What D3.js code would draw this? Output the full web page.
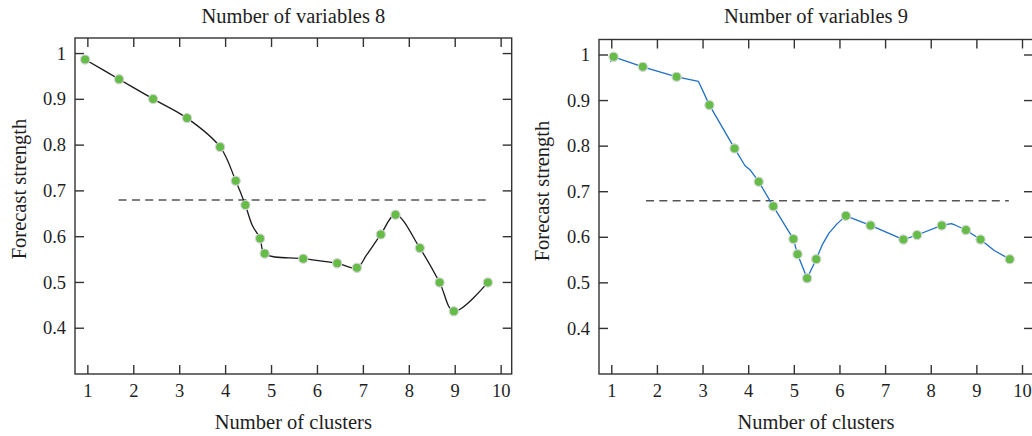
<!DOCTYPE html>
<html>
<head>
<meta charset="utf-8">
<script src="https://cdn.jsdelivr.net/npm/d3@7"></script>
<style>
  body { margin: 0; background: #fff; }
  text { font-family: "Liberation Serif", "DejaVu Serif", serif; fill: #1e1e1e; }
</style>
</head>
<body>
<script>
// tick labels
const xTicks = [1, 2, 3, 4, 5, 6, 7, 8, 9, 10];
const yTicks = [0.4, 0.5, 0.6, 0.7, 0.8, 0.9, 1];

// number of variables 8 (markers)
const v8X = [0.94, 1.68, 2.42, 3.16, 3.88, 4.22, 4.43, 4.75, 4.85, 5.69, 6.43, 6.86, 7.38, 7.70, 8.23, 8.66, 8.97, 9.71];
const v8Y = [0.987, 0.944, 0.901, 0.859, 0.796, 0.722, 0.669, 0.596, 0.563, 0.552, 0.542, 0.532, 0.605, 0.648, 0.575, 0.500, 0.437, 0.500];
// extra bends of the drawn curve
const v8BendX = [4.58, 7.07];
const v8BendY = [0.625, 0.560];

// number of variables 9 (markers)
const v9X = [1.04, 1.68, 2.42, 3.14, 3.69, 4.22, 4.54, 4.98, 5.07, 5.28, 5.48, 6.13, 6.67, 7.39, 7.69, 8.23, 8.76, 9.08, 9.72];
const v9Y = [0.996, 0.974, 0.952, 0.890, 0.795, 0.722, 0.668, 0.596, 0.563, 0.510, 0.552, 0.647, 0.626, 0.595, 0.605, 0.626, 0.616, 0.595, 0.552];
const v9BendX = [0.97, 2.90, 3.92, 4.04, 5.62, 5.76, 5.94, 8.44, 8.52, 9.38];
const v9BendY = [0.985, 0.942, 0.757, 0.747, 0.585, 0.609, 0.630, 0.630, 0.627, 0.571];

// threshold line
const cutoff = 0.68;
const cut8 = [1.67, 9.69];
const cut9 = [1.75, 9.70];

const W = 1032, H = 436;
const svg = d3.select("body").append("svg")
  .attr("width", W)
  .attr("height", H);

function drawPanel(o) {
  const x = d3.scaleLinear().domain([0.72, 10.23]).range([o.left, o.right]);
  const y = d3.scaleLinear().domain([0.3, 1.034]).range([374, o.top]);
  const g = svg.append("g");
  const frame = "#333";

  // frame
  g.append("rect")
    .attr("x", o.left).attr("y", o.top)
    .attr("width", o.right - o.left).attr("height", 374 - o.top)
    .attr("fill", "none").attr("stroke", frame).attr("stroke-width", 1.4);

  // inward ticks, all four sides
  const tk = 9;
  xTicks.forEach(t => {
    g.append("line").attr("x1", x(t)).attr("x2", x(t)).attr("y1", 374).attr("y2", 374 - tk)
      .attr("stroke", frame).attr("stroke-width", 1.4);
    g.append("line").attr("x1", x(t)).attr("x2", x(t)).attr("y1", o.top).attr("y2", o.top + tk)
      .attr("stroke", frame).attr("stroke-width", 1.4);
    g.append("text").attr("x", x(t)).attr("y", 397)
      .attr("text-anchor", "middle").style("font-size", "18.5px").text(t);
  });
  yTicks.forEach(t => {
    g.append("line").attr("x1", o.left).attr("x2", o.left + tk).attr("y1", y(t)).attr("y2", y(t))
      .attr("stroke", frame).attr("stroke-width", 1.4);
    g.append("line").attr("x1", o.right).attr("x2", o.right - tk).attr("y1", y(t)).attr("y2", y(t))
      .attr("stroke", frame).attr("stroke-width", 1.4);
    g.append("text").attr("x", o.left - 9).attr("y", y(t)).attr("dy", "0.33em")
      .attr("text-anchor", "end").style("font-size", "18.5px").text(t);
  });

  // threshold
  g.append("line")
    .attr("x1", x(o.cut[0])).attr("x2", x(o.cut[1]))
    .attr("y1", y(cutoff)).attr("y2", y(cutoff))
    .attr("stroke", "#555").attr("stroke-width", 1.5).attr("stroke-dasharray", "8,5.3");

  // curve through markers and bends
  const pts = o.xs.map((v, i) => [v, o.ys[i]])
    .concat(o.bx.map((v, i) => [v, o.by[i]]))
    .sort((a, b) => a[0] - b[0]);
  const line = d3.line().x(d => x(d[0])).y(d => y(d[1])).curve(o.curve);
  g.append("path").datum(pts).attr("d", line)
    .attr("fill", "none").attr("stroke", o.color).attr("stroke-width", 1.3)
    .attr("stroke-linejoin", "round");

  g.selectAll("circle.pt").data(o.xs).enter().append("circle")
    .attr("class", "pt")
    .attr("cx", d => x(d)).attr("cy", (d, i) => y(o.ys[i]))
    .attr("r", 4.6)
    .attr("fill", "#65bd48").attr("stroke", "#d4d4d4").attr("stroke-width", 1.2);

  // titles
  const cx = (o.left + o.right) / 2;
  g.append("text").attr("x", cx).attr("y", 23).attr("text-anchor", "middle")
    .style("font-size", "20.5px").text(o.title);
  g.append("text").attr("x", cx).attr("y", 429).attr("text-anchor", "middle")
    .style("font-size", "20.5px").text("Number of clusters");
  g.append("text").attr("transform", `translate(${o.ylx},${o.yly}) rotate(-90)`)
    .attr("text-anchor", "middle").style("font-size", "20.5px").text("Forecast strength");
}

drawPanel({left: 75, right: 511.7, top: 38, xs: v8X, ys: v8Y, bx: v8BendX, by: v8BendY,
  curve: d3.curveCatmullRom.alpha(0.5),
  color: "#1a1a1a", cut: cut8, title: "Number of variables 8", ylx: 25.5, yly: 189});
drawPanel({left: 599, right: 1033, top: 39.5, xs: v9X, ys: v9Y, bx: v9BendX, by: v9BendY,
  curve: d3.curveLinear,
  color: "#1f6fc4", cut: cut9, title: "Number of variables 9", ylx: 549, yly: 191});
</script>
</body>
</html>
